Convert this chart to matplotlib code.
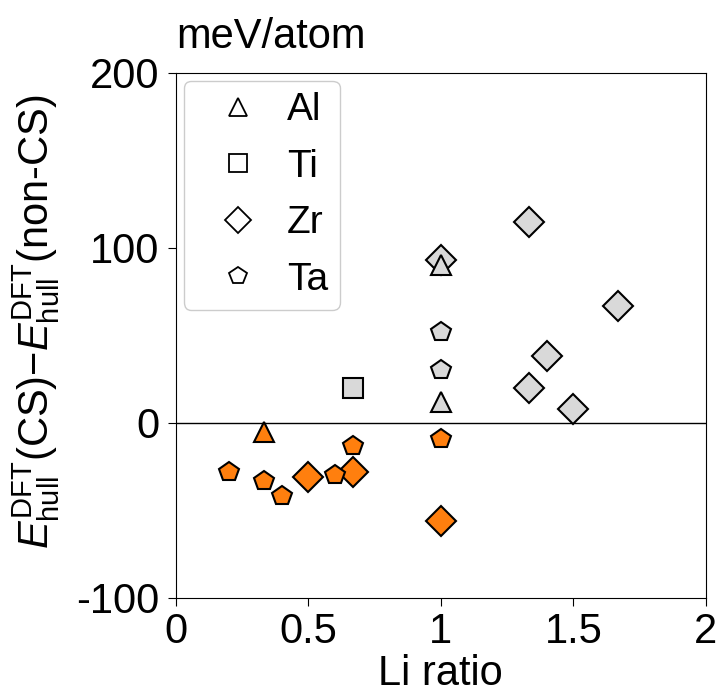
import matplotlib
matplotlib.use("Agg")
import matplotlib.pyplot as plt
from matplotlib.lines import Line2D

plt.rcParams['font.family'] = ['Liberation Sans', 'DejaVu Sans']
plt.rcParams['mathtext.fontset'] = 'custom'
plt.rcParams['mathtext.rm'] = 'Liberation Sans'
plt.rcParams['mathtext.it'] = 'Liberation Sans:italic'
plt.rcParams['axes.unicode_minus'] = False

# data: Li ratio, energy difference (meV/atom)
al_x = [0.333, 1.0, 1.0]
al_y = [-5, 12, 90]
ti_x = [0.667]
ti_y = [20]
zr_x = [0.5, 0.667, 1.0, 1.0, 1.333, 1.667, 1.4, 1.333, 1.5]
zr_y = [-31, -28, -56, 93, 115, 67, 38, 20, 8]
ta_x = [0.2, 0.333, 0.4, 0.6, 0.667, 1.0, 1.0, 1.0]
ta_y = [-28, -33, -42, -30, -13, -9, 30, 52]

orange = '#ff7f0e'
gray = '#d9d9d9'

fig = plt.figure(figsize=(7.18, 7.0), dpi=100)
ax = fig.add_axes([0.245, 0.146, 0.738, 0.75])
ax.axhline(0, color='black', lw=1, zorder=1)


def draw(xs, ys, marker):
    for x, y in zip(xs, ys):
        c = orange if y < 0 else gray
        ax.plot(x, y, marker=marker, ms=15, mfc=c, mec='black', mew=1.5,
                ls='none', zorder=3)


draw(zr_x, zr_y, 'D')
draw(ta_x, ta_y, 'p')
draw(ti_x, ti_y, 's')
draw(al_x, al_y, '^')

ax.set_xlim(0, 2)
ax.set_ylim(-100, 200)
ax.set_xticks([0, 0.5, 1, 1.5, 2])
ax.set_xticklabels(['0', '0.5', '1', '1.5', '2'])
ax.set_yticks([-100, 0, 100, 200])
ax.tick_params(labelsize=30, direction='out', length=6)
ax.tick_params(axis='y', pad=6)
ax.tick_params(axis='x', pad=4)
ax.set_xlabel('Li ratio', fontsize=30, labelpad=2)
ax.set_ylabel(r'$E_\mathrm{hull}^\mathrm{DFT}$(CS)$-$$E_\mathrm{hull}^\mathrm{DFT}$(non-CS)',
              fontsize=30, labelpad=10)
ax.yaxis.label.set_y(0.525)
ax.text(0.0, 1.03, 'meV/atom', transform=ax.transAxes, fontsize=30,
        ha='left', va='bottom')

handles = [Line2D([], [], marker=m, ms=13, mfc='white', mec='black',
                  mew=1.3, ls='none')
           for m in ['^', 's', 'D', 'p']]
ax.legend(handles, ['Al', 'Ti', 'Zr', 'Ta'], loc='upper left', fontsize=28,
          handlelength=2.2, handletextpad=0.15, labelspacing=0.53,
          borderpad=0.3, borderaxespad=0.2, edgecolor='#cccccc',
          framealpha=1)

fig.savefig('out.png', dpi=100)
